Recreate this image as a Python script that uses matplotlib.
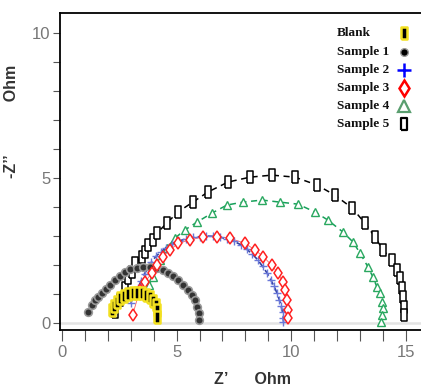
import matplotlib
matplotlib.use("Agg")
import matplotlib.pyplot as plt
from matplotlib.ticker import MultipleLocator

# ---- data (Z' , -Z'') ----
blank_x = [2.17, 2.27, 2.38, 2.53, 2.70, 2.89, 3.08, 3.26, 3.47, 3.66, 3.84, 3.98, 4.08, 4.13, 4.16]
blank_y = [0.45, 0.59, 0.74, 0.85, 0.93, 1.00, 1.02, 1.05, 1.02, 0.97, 0.89, 0.77, 0.62, 0.45, 0.22]

s1_x = [1.15, 1.29, 1.44, 1.58, 1.73, 1.92, 2.09, 2.31, 2.53, 2.75, 2.97, 3.26, 3.55, 3.84,
        4.13, 4.42, 4.64, 4.85, 5.07, 5.29, 5.51, 5.66, 5.80, 5.90, 5.97, 5.99]
s1_y = [0.39, 0.62, 0.79, 0.91, 1.02, 1.19, 1.31, 1.48, 1.62, 1.77, 1.85, 1.91, 1.94, 1.94,
        1.91, 1.83, 1.74, 1.62, 1.48, 1.31, 1.14, 0.97, 0.79, 0.56, 0.33, 0.10]

s2_x = [3.00, 3.15, 3.30, 3.45, 3.60, 3.75, 3.90, 4.10, 4.30, 4.55, 4.80, 5.10, 5.40, 5.70,
        6.00, 6.30, 6.60, 6.90, 7.20, 7.50, 7.80, 8.05, 8.30, 8.55, 8.75, 8.95, 9.10, 9.25,
        9.38, 9.48, 9.56, 9.62, 9.65, 9.66]
s2_y = [0.70, 0.95, 1.20, 1.45, 1.70, 1.90, 2.10, 2.30, 2.45, 2.60, 2.72, 2.83, 2.90, 2.95,
        2.98, 3.00, 2.99, 2.96, 2.90, 2.82, 2.70, 2.55, 2.38, 2.17, 1.95, 1.72, 1.50, 1.27,
        1.03, 0.80, 0.58, 0.37, 0.18, 0.05]

s3_x = [3.08, 3.40, 3.62, 3.91, 4.13, 4.39, 4.71, 5.07, 5.58, 6.16, 6.75, 7.33, 7.98, 8.42,
        8.78, 9.14, 9.43, 9.62, 9.73, 9.83, 9.87, 9.87]
s3_y = [0.28, 1.14, 1.41, 1.72, 2.00, 2.29, 2.52, 2.75, 2.86, 2.98, 2.98, 2.92, 2.75, 2.52,
        2.29, 2.00, 1.71, 1.43, 1.14, 0.79, 0.45, 0.16]

s4_x = [3.65, 3.80, 3.95, 4.27, 4.58, 4.93, 5.36, 5.89, 6.54, 7.20, 7.90, 8.72, 9.50, 10.29,
        11.03, 11.60, 12.25, 12.70, 13.00, 13.35, 13.56, 13.74, 13.87, 13.96, 14.00, 13.96, 13.91]
s4_y = [1.00, 1.30, 1.60, 2.17, 2.59, 2.93, 3.21, 3.48, 3.79, 4.07, 4.17, 4.24, 4.17, 4.10,
        3.83, 3.55, 3.14, 2.79, 2.41, 1.93, 1.59, 1.24, 1.03, 0.72, 0.52, 0.28, 0.03]

s5_x = [2.31, 2.53, 2.75, 2.88, 3.05, 3.18, 3.49, 3.62, 3.75, 3.97, 4.14, 4.58, 5.06, 5.71,
        6.37, 7.24, 8.20, 9.16, 10.16, 11.12, 11.90, 12.65, 13.21, 13.65, 14.00, 14.39, 14.61,
        14.74, 14.83, 14.87, 14.91, 14.91]
s5_y = [0.38, 0.79, 1.21, 1.55, 1.76, 2.07, 2.28, 2.45, 2.69, 2.86, 3.10, 3.45, 3.83, 4.17,
        4.52, 4.86, 5.03, 5.10, 5.03, 4.76, 4.41, 3.97, 3.45, 2.97, 2.52, 2.17, 1.83,
        1.55, 1.21, 0.90, 0.55, 0.28]

labels = ["Blank", "Sample 1", "Sample 2", "Sample 3", "Sample 4", "Sample 5"]
x_ticks = [0, 5, 10, 15]
y_ticks = [0, 5, 10]

tall_rect = [(-0.5, -1), (0.5, -1), (0.5, 1), (-0.5, 1), (-0.5, -1)]

fig = plt.figure(figsize=(4.21, 3.92), dpi=100)
W, H = 421, 392
ax = fig.add_axes([60 / W, (H - 330) / H, (421 - 60) / W, (330 - 13) / H])

# y=0 faint reference line
ax.axhline(0, color="#e4e4e4", lw=1.8, zorder=0)

ax.plot(s5_x, s5_y, color="black", ls=(0, (4, 3)), lw=1.1, zorder=2)
ax.plot(s5_x, s5_y, ls="none", marker=tall_rect, ms=8, mfc="white", mec="black", mew=1.1, zorder=3)

ax.plot(s4_x, s4_y, color="#16a05a", ls=(0, (4, 3)), lw=1.1, zorder=2)
ax.plot(s4_x, s4_y, ls="none", marker="^", ms=6, mfc="white", mec="#2aa860", mew=1.0, zorder=3)

ax.plot(s3_x, s3_y, color="#ff6060", ls="-", lw=0.6, zorder=2)
ax.plot(s3_x, s3_y, ls="none", marker="d", ms=6.5, mfc="white", mec="#ff2020", mew=1.1, zorder=4)

ax.plot(s2_x, s2_y, color="#3040a0", ls=(0, (4, 2)), lw=1.2, zorder=3)
ax.plot(s2_x, s2_y, ls="none", marker="+", ms=6, mec="#6a78d8", mew=1.0, zorder=3)

ax.plot(s1_x, s1_y, ls="none", marker="o", ms=5.5, mfc="#333333", mec="#999999", mew=1.2, zorder=3)

ax.plot(blank_x, blank_y, ls="none", marker=tall_rect, ms=8, mfc="black", mec="#f2e020", mew=1.8, zorder=5)

ax.set_xlim(-0.087, 15.66)
ax.set_ylim(-0.24, 10.69)

for s in ["left", "bottom", "top"]:
    ax.spines[s].set_linewidth(1.3)
    ax.spines[s].set_color("black")
ax.spines["right"].set_visible(False)

ax.set_xticks(x_ticks)
ax.set_yticks(y_ticks)
ax.xaxis.set_minor_locator(MultipleLocator(1))
ax.yaxis.set_minor_locator(MultipleLocator(1))
ax.tick_params(axis="x", which="both", direction="out", length=8, width=0.8, color="#555555",
               labelsize=12, labelcolor="#777777", pad=3)
ax.tick_params(axis="y", which="both", direction="out", length=5, width=0.8, color="#555555",
               labelsize=12, labelcolor="#777777", pad=2)
ax.tick_params(top=False, right=False)
for lab in ax.get_xticklabels() + ax.get_yticklabels():
    lab.set_family(["Liberation Sans Narrow", "DejaVu Sans Condensed", "Liberation Sans"])

fig.text(0.60, 0.013, "Z’      Ohm", ha="center", va="bottom", fontsize=11.5,
         fontweight="bold", color="#333333", family="Liberation Sans")
fig.text(0.028, 0.69, "-Z’’            Ohm", ha="center", va="center", rotation=90, fontsize=11.5,
         fontweight="bold", color="#333333", family="Liberation Sans")

# manual legend: left-aligned text, markers on the right
leg_style = [
    dict(marker=tall_rect, ms=8, mfc="black", mec="#f2e020", mew=1.8),
    dict(marker="o", ms=5.5, mfc="black", mec="#999999", mew=1.0),
    dict(marker="+", ms=10, mec="#0000ff", mew=1.8),
    dict(marker="d", ms=8, mfc="white", mec="#ff0000", mew=1.8),
    dict(marker="^", ms=9, mfc="white", mec="#5a9e6f", mew=1.6),
    dict(marker=tall_rect, ms=8, mfc="white", mec="black", mew=1.6),
]
row_px = [33, 52, 70, 88, 106, 124]
for lab, st, ry in zip(labels, leg_style, row_px):
    fig.text(337 / W, 1 - ry / H, lab, ha="left", va="center", fontsize=9.5,
             family="Liberation Serif", fontweight="bold", color="#111111")
    fig.add_artist(plt.Line2D([404 / W], [1 - ry / H], ls="none", transform=fig.transFigure, **st))

fig.savefig("out.png", dpi=100)
